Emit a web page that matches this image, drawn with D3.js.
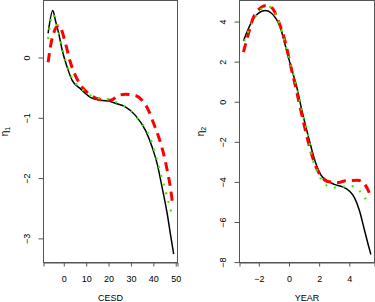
<!DOCTYPE html>
<html>
<head>
<meta charset="utf-8">
<script src="https://cdn.jsdelivr.net/npm/d3@7"></script>
<style>
  body { margin: 0; background: #fff; }
  svg { display: block; }
</style>
</head>
<body>
<div id="vis"></div>
<script>
/* data: left panel (CESD) */
let cesdBlackX = [-7.0, -4.9, -3.7, -2.2, -0.7, 1.5, 3.75, 7.5, 11.9, 16.4, 20.8, 23.1, 27.5, 32.0, 36.5, 39.5, 41.7, 43.9, 46.2, 47.6, 49.1];
let cesdBlackY = [0.40, 0.78, 0.61, 0.39, 0.12, -0.16, -0.38, -0.52, -0.66, -0.71, -0.73, -0.76, -0.82, -0.96, -1.21, -1.49, -1.76, -2.15, -2.59, -2.92, -3.26];
let cesdGreenX = [-7.0, -5.0, -3.6, -2.1, -0.6, 1.6, 3.8, 7.5, 11.9, 16.4, 20.8, 23.8, 29.8, 34.2, 36.5, 39.5, 41.7, 43.9, 46.2, 48.4];
let cesdGreenY = [0.31, 0.72, 0.60, 0.40, 0.14, -0.14, -0.35, -0.50, -0.63, -0.68, -0.70, -0.75, -0.88, -1.07, -1.18, -1.43, -1.71, -2.01, -2.32, -2.62];
let cesdRedX = [-7.0, -5.0, -2.2, 0.8, 2.7, 5.2, 8.2, 11.9, 16.4, 20.8, 24.6, 27.5, 32.0, 35.0, 37.9, 40.2, 42.4, 44.6, 46.2, 47.6, 48.7];
let cesdRedY = [-0.08, 0.35, 0.53, 0.23, -0.05, -0.30, -0.49, -0.62, -0.70, -0.71, -0.63, -0.61, -0.63, -0.71, -0.88, -1.10, -1.32, -1.60, -1.87, -2.15, -2.45];

/* data: right panel (YEAR) */
let yearBlackX = [-3.02, -2.3, -1.57, -0.66, -0.27, 0.14, 0.52, 0.86, 1.30, 1.76, 2.09, 2.55, 3.0, 3.56, 4.0, 4.34, 4.68, 5.02, 5.25, 5.43];
let yearBlackY = [3.03, 4.2, 4.55, 3.88, 2.88, 1.72, 0.72, -0.45, -1.78, -3.03, -3.62, -3.95, -4.12, -4.25, -4.45, -4.78, -5.45, -6.45, -7.12, -7.62];
let yearGreenX = [-2.97, -2.3, -1.84, -1.22, -0.66, -0.27, 0.14, 0.52, 0.86, 1.30, 1.53, 1.76, 1.98, 2.32, 2.88, 3.45, 4.08, 4.64, 5.02, 5.29];
let yearGreenY = [3.02, 4.15, 4.63, 4.72, 3.95, 2.95, 1.75, 0.72, -0.45, -1.8, -2.78, -3.25, -3.65, -4.07, -4.28, -4.25, -4.2, -4.42, -4.78, -5.2];
let yearRedX = [-3.02, -2.75, -2.3, -1.51, -1.13, -0.66, -0.27, 0.14, 0.52, 0.74, 1.42, 1.64, 2.32, 2.55, 3.33, 3.67, 4.57, 4.91, 5.36, 5.43];
let yearRedY = [2.47, 3.22, 4.3, 4.8, 4.68, 3.95, 3.05, 1.7, 0.47, -0.28, -2.4, -2.95, -3.87, -3.98, -4.03, -3.95, -3.92, -4.03, -4.62, -4.78];

/* axes */
let cesdTicksX = [0, 10, 20, 30, 40, 50];
let cesdTicksY = [0, -1, -2, -3];
let yearTicksX = [-2, 0, 2, 4];
let yearTicksY = [4, 2, 0, -2, -4, -6, -8];

/* geometry */
let width = 375, height = 302;
let fontFam = "'Liberation Sans', Arial, sans-serif";

let panels = [
  { box: [43.5, 177.5, 0.5, 262.5], xDom: [-9.06, 50.8], yDom: [-3.40, 0.945],
    xTicks: cesdTicksX, yTicks: cesdTicksY, xLabel: "CESD", sub: "1",
    series: [[cesdBlackX, cesdBlackY], [cesdRedX, cesdRedY], [cesdGreenX, cesdGreenY]] },
  { box: [239.5, 374.5, 0.5, 262.5], xDom: [-3.28, 5.67], yDom: [-8.02, 5.05],
    xTicks: yearTicksX, yTicks: yearTicksY, xLabel: "YEAR", sub: "2",
    series: [[yearBlackX, yearBlackY], [yearRedX, yearRedY], [yearGreenX, yearGreenY]] },
];

let styles = [
  { stroke: "#000", width: 1.5, dash: null },
  { stroke: "#ff0000", width: 3, dash: "9,6" },
  { stroke: "#33ee00", width: 2.2, dash: "2,7" },
];

let svg = d3.select("#vis").append("svg")
  .attr("width", width)
  .attr("height", height);

panels.forEach(p => {
  let [x0, x1, y0, y1] = p.box;
  let x = d3.scaleLinear().domain(p.xDom).range([x0, x1]);
  let y = d3.scaleLinear().domain(p.yDom).range([y1, y0]);
  let g = svg.append("g");

  /* curves, clipped to box */
  let clipId = "clip" + p.sub;
  svg.append("clipPath").attr("id", clipId)
    .append("rect").attr("x", x0).attr("y", y0).attr("width", x1 - x0).attr("height", y1 - y0);
  let line = d3.line().curve(d3.curveMonotoneX)
    .x(d => x(d[0])).y(d => y(d[1]));
  let curves = g.append("g").attr("clip-path", "url(#" + clipId + ")");
  p.series.forEach((s, i) => {
    let st = styles[i];
    curves.append("path")
      .attr("d", line(d3.zip(s[0], s[1])))
      .attr("fill", "none")
      .attr("stroke", st.stroke)
      .attr("stroke-width", st.width)
      .attr("stroke-dasharray", st.dash);
  });

  /* box */
  g.append("rect")
    .attr("x", x0).attr("y", y0)
    .attr("width", x1 - x0).attr("height", y1 - y0)
    .attr("fill", "none").attr("stroke", "#555");

  /* x axis */
  let xa = g.append("g").attr("transform", "translate(0," + y1 + ")")
    .call(d3.axisBottom(x).tickValues(p.xTicks).tickSize(4).tickPadding(9)
      .tickFormat(d => d < 0 ? "\u2212" + (-d) : d));
  xa.select(".domain").attr("stroke", "#555");
  xa.selectAll("line").attr("stroke", "#555");
  xa.selectAll("text").attr("font-family", fontFam).attr("font-size", 9).attr("fill", "#000");

  /* y axis */
  let ya = g.append("g").attr("transform", "translate(" + x0 + ",0)")
    .call(d3.axisLeft(y).tickValues(p.yTicks).tickSize(5).tickSizeOuter(0)
      .tickFormat(d => d < 0 ? "\u2212" + (-d) : d));
  ya.select(".domain").remove();
  ya.selectAll("line").attr("stroke", "#555");
  ya.selectAll("text")
    .attr("font-family", fontFam).attr("font-size", 9).attr("fill", "#000")
    .attr("x", null).attr("dy", null)
    .attr("text-anchor", "middle")
    .attr("transform", "translate(-14,0) rotate(-90)");

  /* axis labels */
  g.append("text")
    .attr("x", (x0 + x1) / 2).attr("y", 301)
    .attr("text-anchor", "middle")
    .attr("font-family", fontFam).attr("font-size", 9)
    .text(p.xLabel);
  let yl = g.append("text")
    .attr("transform", "translate(" + (x0 - 36) + "," + ((y0 + y1) / 2) + ") rotate(-90)")
    .attr("text-anchor", "middle")
    .attr("font-family", fontFam).attr("font-size", 10);
  yl.append("tspan").text("\u03b7");
  yl.append("tspan").attr("font-size", 7).attr("dy", 2).text(p.sub);
});
</script>
</body>
</html>
